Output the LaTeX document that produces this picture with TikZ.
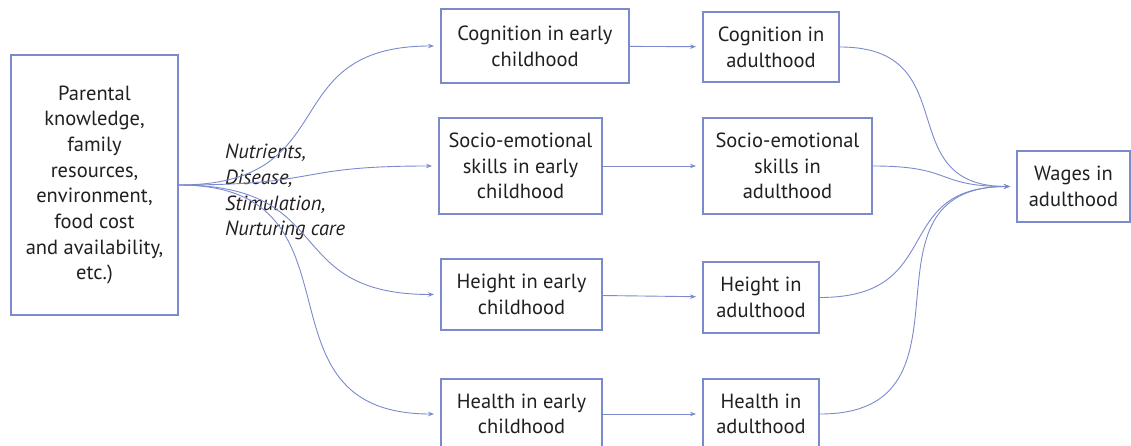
\documentclass[tikz,border=0pt]{standalone}
\usepackage{fontspec}
\setmainfont{PT Sans}
\usetikzlibrary{arrows.meta}
\definecolor{boxblue}{RGB}{122,138,204}
\definecolor{inktext}{RGB}{35,31,32}

\begin{document}
\begin{tikzpicture}[x=1pt,y=-1pt,
    box/.style={draw=boxblue,line width=2pt,align=center,inner sep=0pt,
      text=inktext,font=\fontsize{20.5}{25.7}\selectfont},
    link/.style={draw=boxblue,line width=0.9pt,shorten >=6pt,
      -{Stealth[length=6pt,width=4.5pt]}},
    sway/.style={out=0,in=180,looseness=1.45}]
    \useasboundingbox (0,0) rectangle (1131,446);
    \clip (0,0) rectangle (1131,446);
    % boxes
    \node[box,minimum width=167pt,minimum height=260pt] (parents) at (94.5,185)
      {Parental\\knowledge,\\family\\resources,\\environment,\\food cost\\and availability,\\etc.)};
    \node[box,minimum width=188pt,minimum height=74pt] (cogE) at (535,46) {Cognition in early\\childhood};
    \node[box,minimum width=136pt,minimum height=70pt] (cogA) at (771,47) {Cognition in\\adulthood};
    \node[box,minimum width=163pt,minimum height=96pt] (socE) at (520.5,166) {Socio-emotional\\skills in early\\childhood};
    \node[box,minimum width=169pt,minimum height=96pt] (socA) at (787.5,166) {Socio-emotional\\skills in\\adulthood};
    \node[box,minimum width=161pt,minimum height=71pt] (heiE) at (521.5,294.5) {Height in early\\childhood};
    \node[box,minimum width=116pt,minimum height=71pt] (heiA) at (761,297.5) {Height in\\adulthood};
    \node[box,minimum width=161pt,minimum height=70pt] (heaE) at (521.5,414) {Health in early\\childhood};
    \node[box,minimum width=116pt,minimum height=70pt] (heaA) at (761,414) {Health in\\adulthood};
    \node[box,minimum width=113pt,minimum height=71pt] (wages) at (1073.5,186.5) {Wages in\\adulthood};
    \node[text=inktext,align=left,inner sep=0pt,anchor=north west,
      font=\fontsize{20.5}{25.7}\selectfont\itshape] (inputs) at (225,144)
      {Nutrients,\\Disease,\\Stimulation,\\Nurturing care};
    % arrows
    \draw[link] (parents.east) to[sway] (cogE.west);
    \draw[link] (parents.east) to[sway] (socE.west);
    \draw[link] (parents.east) to[sway] (heiE.west);
    \draw[link] (parents.east) to[sway] (heaE.west);
    \draw[link] (cogE) -- (cogA);
    \draw[link] (socE) -- (socA);
    \draw[link] (heiE) -- (heiA);
    \draw[link] (heaE) -- (heaA);
    \draw[link] (cogA.east) to[sway] (wages.west);
    \draw[link] (socA.east) to[sway] (wages.west);
    \draw[link] (heiA.east) to[sway] (wages.west);
    \draw[link] (heaA.east) to[sway] (wages.west);
\end{tikzpicture}
\end{document}
